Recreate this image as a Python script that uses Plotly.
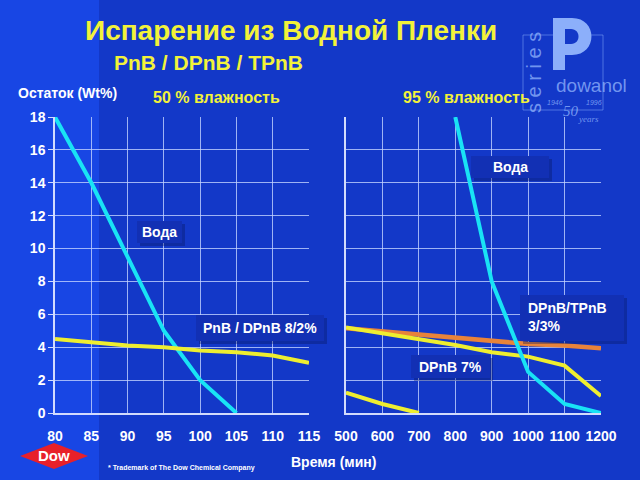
import plotly.graph_objects as go

# ---- data ----
left_x = [80, 85, 90, 95, 100, 105, 110, 115]
left_water_x = [80, 85, 90, 95, 100, 105]
left_water_y = [18, 14, 9.5, 5, 2, 0]
left_pnb_y = [4.5, 4.3, 4.1, 4.0, 3.8, 3.7, 3.5, 3.05]

right_x = [500, 600, 700, 800, 900, 1000, 1100, 1200]
right_water_x = [800, 900, 1000, 1100, 1200]
right_water_y = [18, 8, 2.5, 0.55, 0]
right_dtpnb_y = [5.15, 4.95, 4.75, 4.55, 4.4, 4.2, 4.1, 3.93]
right_dpnb_y = [5.2, 4.85, 4.54, 4.13, 3.69, 3.43, 2.88, 1.03]
right_low_x = [500, 600, 700]
right_low_y = [1.24, 0.55, 0]

left_ticks = [80, 85, 90, 95, 100, 105, 110, 115]
right_ticks = [500, 600, 700, 800, 900, 1000, 1100, 1200]
y_ticks = [0, 2, 4, 6, 8, 10, 12, 14, 16, 18]

W, H = 640, 480
def px(x):
    return x / W
def py(y):
    return 1 - y / H

CYAN = "#19E3F5"
YELLOW = "#EEEE30"
ORANGE = "#E8833A"
GRID = "rgba(195,210,255,0.8)"
FONT = "Liberation Sans, Arial, sans-serif"

fig = go.Figure()
fig.add_trace(go.Scatter(x=left_water_x, y=left_water_y, mode="lines",
                         line=dict(color=CYAN, width=4), cliponaxis=False,
                         xaxis="x", yaxis="y"))
fig.add_trace(go.Scatter(x=left_x, y=left_pnb_y, mode="lines",
                         line=dict(color=YELLOW, width=4), cliponaxis=False,
                         xaxis="x", yaxis="y"))
fig.add_trace(go.Scatter(x=right_x, y=right_dtpnb_y, mode="lines",
                         line=dict(color=ORANGE, width=4.5), cliponaxis=False,
                         xaxis="x2", yaxis="y2"))
fig.add_trace(go.Scatter(x=right_x, y=right_dpnb_y, mode="lines",
                         line=dict(color=YELLOW, width=4), cliponaxis=False,
                         xaxis="x2", yaxis="y2"))
fig.add_trace(go.Scatter(x=right_low_x, y=right_low_y, mode="lines",
                         line=dict(color=YELLOW, width=4), cliponaxis=False,
                         xaxis="x2", yaxis="y2"))
fig.add_trace(go.Scatter(x=right_water_x, y=right_water_y, mode="lines",
                         line=dict(color=CYAN, width=4), cliponaxis=False,
                         xaxis="x2", yaxis="y2"))

ydom = [py(413), py(117)]
axis_common = dict(showgrid=True, gridcolor=GRID, gridwidth=1, zeroline=False,
                   showline=True, linecolor="rgba(220,228,255,0.95)", linewidth=1.5,
                   automargin=False,
                   tickfont=dict(family=FONT, size=14, color="white", weight="bold"))

fig.update_layout(
    template="none",
    width=W, height=H,
    margin=dict(l=0, r=0, t=0, b=0, pad=0, autoexpand=False),
    paper_bgcolor="#1846E4",
    plot_bgcolor="rgba(0,0,0,0)",
    showlegend=False,
    xaxis=dict(domain=[px(55), px(309)], range=[80, 115], tickvals=left_ticks,
               ticks="", ticklabelstandoff=9, anchor="y", **axis_common),
    yaxis=dict(domain=ydom, range=[0, 18], tickvals=y_ticks, ticks="outside",
               ticklen=5, tickcolor="rgba(220,228,255,0.95)", anchor="x", **axis_common),
    xaxis2=dict(domain=[px(346), px(601)], range=[500, 1200], tickvals=right_ticks,
                ticks="", ticklabelstandoff=9, anchor="y2", **axis_common),
    yaxis2=dict(domain=ydom, range=[0, 18], tickvals=y_ticks, showticklabels=False,
                anchor="x2", **axis_common),
)

LOGO = "rgba(140,175,250,0.8)"
LOGO_SOLID = "#8CAFFA"

def P(x, y):
    return f"{px(x)},{py(y)}"

shapes = [
    dict(type="rect", xref="paper", yref="paper", x0=px(99), x1=1, y0=0, y1=1,
         fillcolor="#1338C8", line=dict(width=0), layer="below"),
    # Dow diamond
    dict(type="path", xref="paper", yref="paper",
         path=f"M {P(20,456)} L {P(54,443)} L {P(88,456)} L {P(54,469)} Z",
         fillcolor="#E8202A", line=dict(width=0)),
    # dowanol logo frame
    dict(type="rect", xref="paper", yref="paper", x0=px(523), x1=px(603), y0=py(110), y1=py(35),
         line=dict(color="rgba(130,165,245,0.55)", width=1), fillcolor="rgba(0,0,0,0)"),
    # P logo
    dict(type="path", xref="paper", yref="paper",
         path=f"M {P(553,18)} L {P(572,18)} C {P(598,18)} {P(598,55)} {P(572,55)} "
              f"L {P(565,55)} L {P(565,70)} L {P(553,70)} Z",
         fillcolor=LOGO_SOLID, line=dict(width=0)),
    dict(type="path", xref="paper", yref="paper",
         path=f"M {P(565,29)} L {P(571,29)} C {P(581,29)} {P(581,44)} {P(571,44)} L {P(565,44)} Z",
         fillcolor="#1338C8", line=dict(width=0)),
]

# label boxes with shadow
boxes = [
    (137, 221, 182, 243),
    (196, 315, 324, 341),
    (471, 156, 549, 178),
    (520, 295, 624, 341),
    (411, 355, 490, 378),
]
for (x0, y0, x1, y1) in boxes:
    shapes.append(dict(type="rect", xref="paper", yref="paper",
                       x0=px(x0 + 3), x1=px(x1 + 3), y0=py(y1 + 3), y1=py(y0 + 3),
                       fillcolor="rgba(5,20,90,0.35)", line=dict(width=0)))
    shapes.append(dict(type="rect", xref="paper", yref="paper",
                       x0=px(x0), x1=px(x1), y0=py(y1), y1=py(y0),
                       fillcolor="#1230B4", line=dict(width=0)))
fig.update_layout(shapes=shapes)

def ann(text, x, y, size, color="white", xanchor="center", bold=True, family=FONT, **kw):
    fig.add_annotation(text=text, x=px(x), y=py(y), xref="paper", yref="paper",
                       showarrow=False, xanchor=xanchor, yanchor="middle",
                       font=dict(family=family, size=size, color=color,
                                 weight="bold" if bold else "normal"), **kw)

ann("Испарение из Водной Пленки", 291, 30, 28, color="#F2F23A")
ann("PnB / DPnB / TPnB", 208, 63, 21, color="#F2F23A")
ann("Остаток (Wt%)", 67, 93, 14)
ann("50 % влажность", 216, 98, 16, color="#F2F23A")
ann("95 % влажность", 466, 98, 16, color="#F2F23A")
ann("Время (мин)", 333, 462, 14)
ann("* Trademark of The Dow Chemical Company", 181, 468, 7)
ann("Dow", 54, 455, 15)

ann("Вода", 159, 232, 14)
ann("PnB / DPnB 8/2%", 260, 328, 14)
ann("Вода", 510, 167, 14)
ann("DPnB/TPnB<br>3/3%", 526, 317, 14, xanchor="left", align="left")
ann("DPnB 7%", 450, 367, 14)

ann("s e r i e s", 534, 73, 20, color=LOGO, bold=False, textangle=-90)
ann("dowanol", 591, 85, 19, color=LOGO, bold=False)
ann("<i>1946</i>", 555, 102, 7, color=LOGO, bold=False)
ann("<i>1996</i>", 594, 102, 7, color=LOGO, bold=False)
ann("<i>50</i>", 571, 111, 15, color=LOGO, bold=False, family="Liberation Serif, serif")
ann("<i>years</i>", 588, 119, 9, color=LOGO, bold=False, family="Liberation Serif, serif")

fig.write_html("out.html", config={"displayModeBar": False},
               post_script="document.body.style.margin='0';document.body.style.overflow='hidden';")
